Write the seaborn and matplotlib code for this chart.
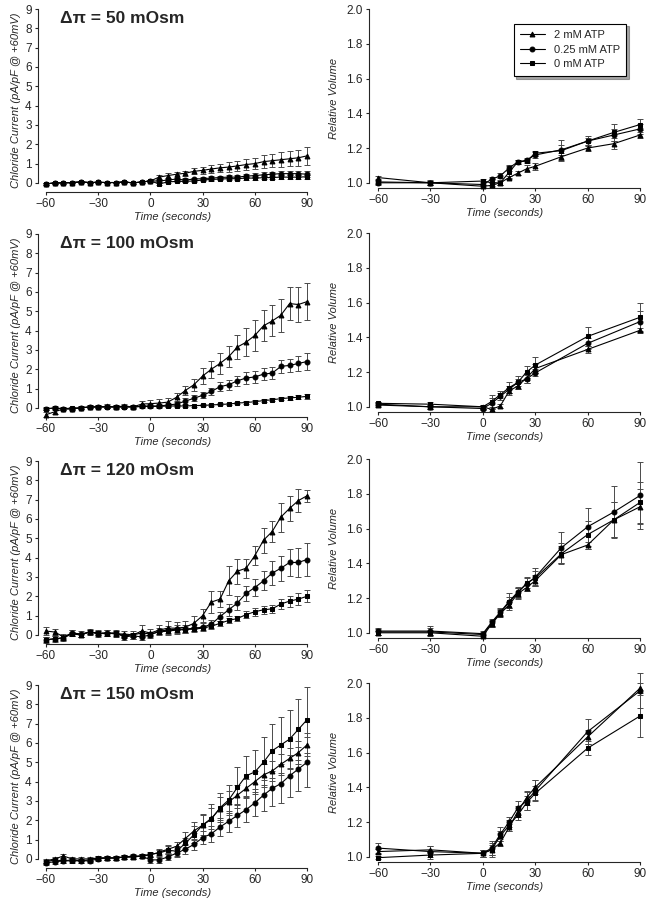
import matplotlib
matplotlib.use('Agg')
import matplotlib.pyplot as plt
import seaborn as sns

# time axes
t_cur = list(range(-60, 91, 5))
t_vol_a = [-60, -30, 0, 5, 10, 15, 20, 25, 30, 45, 60, 75, 90]
t_vol_b = [-60, -30, 0, 5, 10, 15, 20, 25, 30, 60, 90]

atp_labels = ['2 mM ATP', '0.25 mM ATP', '0 mM ATP']
osm_titles = ['Δπ = 50 mOsm', 'Δπ = 100 mOsm', 'Δπ = 120 mOsm', 'Δπ = 150 mOsm']

# chloride current, 50 mOsm
cur50_atp2 = [-0.05, 0.0, 0.0, 0.02, 0.05, 0.02, 0.03, 0.02, 0.02, 0.05, 0.0, 0.05, 0.1,
              0.3, 0.38, 0.45, 0.5, 0.6, 0.65, 0.72, 0.78, 0.82, 0.88, 0.95, 1.0, 1.1, 1.15, 1.2, 1.25, 1.3, 1.4]
cur50_atp2_err = [0.05] * 12 + [0.06, 0.1, 0.12, 0.12, 0.13, 0.15, 0.18, 0.2, 0.22, 0.25, 0.26, 0.28,
                                0.3, 0.32, 0.35, 0.38, 0.38, 0.4, 0.45]
cur50_atp025 = [-0.05, 0.0, 0.0, 0.02, 0.05, 0.02, 0.03, 0.02, 0.02, 0.05, 0.0, 0.05, 0.1,
                0.1, 0.15, 0.2, 0.15, 0.2, 0.22, 0.25, 0.28, 0.3, 0.3, 0.35, 0.38, 0.42, 0.45, 0.48, 0.48, 0.48, 0.45]
cur50_atp025_err = [0.04] * 12 + [0.05, 0.06, 0.07, 0.08, 0.08, 0.08, 0.09, 0.1, 0.1, 0.1, 0.11, 0.12,
                                  0.12, 0.13, 0.14, 0.14, 0.15, 0.15, 0.15]
cur50_atp0 = [-0.05, 0.0, 0.0, 0.02, 0.05, 0.02, 0.03, 0.02, 0.02, 0.05, 0.0, 0.05, 0.1,
              -0.05, 0.05, 0.08, 0.08, 0.1, 0.15, 0.18, 0.2, 0.22, 0.22, 0.25, 0.25, 0.27, 0.28, 0.3, 0.3, 0.3, 0.32]
cur50_atp0_err = [0.04] * 12 + [0.04, 0.04, 0.05, 0.05, 0.05, 0.06, 0.06, 0.06, 0.07, 0.07, 0.07, 0.08,
                                0.08, 0.08, 0.08, 0.09, 0.09, 0.09, 0.1]

# chloride current, 100 mOsm
cur100_atp2 = [-0.35, -0.2, -0.05, -0.05, 0.0, 0.05, 0.05, 0.08, 0.05, 0.1, 0.05, 0.2, 0.22,
               0.25, 0.3, 0.55, 0.9, 1.2, 1.65, 2.0, 2.3, 2.65, 3.15, 3.4, 3.75, 4.25, 4.5, 4.8, 5.4, 5.35, 5.5]
cur100_atp2_err = [0.12, 0.1, 0.08, 0.08, 0.08, 0.08, 0.08, 0.1, 0.1, 0.12, 0.12, 0.15, 0.18,
                   0.2, 0.22, 0.2, 0.25, 0.3, 0.4, 0.45, 0.55, 0.55, 0.6, 0.72, 0.8, 0.8, 0.8, 0.85, 0.85, 0.9, 0.95]
cur100_atp025 = [-0.05, 0.0, -0.05, -0.05, 0.0, 0.05, 0.05, 0.05, 0.05, 0.05, 0.05, 0.08, 0.1,
                 0.1, 0.15, 0.2, 0.35, 0.5, 0.65, 0.85, 1.1, 1.2, 1.4, 1.55, 1.6, 1.75, 1.8, 2.15, 2.2, 2.3, 2.4]
cur100_atp025_err = [0.08] * 12 + [0.08, 0.1, 0.1, 0.12, 0.15, 0.15, 0.15, 0.2, 0.25, 0.25, 0.25, 0.3,
                                   0.3, 0.3, 0.3, 0.35, 0.35, 0.38, 0.42]
cur100_atp0 = [-0.05, 0.0, -0.05, 0.0, 0.0, 0.05, 0.05, 0.05, 0.05, 0.05, 0.05, 0.08, 0.08,
               0.08, 0.1, 0.1, 0.1, 0.12, 0.13, 0.15, 0.18, 0.2, 0.25, 0.28, 0.32, 0.38, 0.42, 0.48, 0.52, 0.55, 0.6]
cur100_atp0_err = [0.05] * 12 + [0.05] * 9 + [0.06, 0.06, 0.06, 0.07, 0.07, 0.08, 0.08, 0.09, 0.1, 0.12]

# chloride current, 120 mOsm
cur120_atp2 = [0.2, 0.15, -0.1, 0.1, 0.0, 0.15, 0.1, 0.1, 0.05, 0.05, 0.0, 0.2, 0.1,
               0.25, 0.35, 0.35, 0.4, 0.6, 1.0, 1.7, 1.85, 2.8, 3.3, 3.45, 4.1, 4.9, 5.35, 6.1, 6.55, 6.95, 7.2]
cur120_atp2_err = [0.2, 0.15, 0.15, 0.15, 0.12, 0.1, 0.15, 0.15, 0.15, 0.15, 0.2, 0.3, 0.2,
                   0.25, 0.35, 0.3, 0.3, 0.4, 0.35, 0.55, 0.4, 0.75, 0.65, 0.5, 0.5, 0.65, 0.55, 0.75, 0.65, 0.6, 0.3]
cur120_atp025 = [-0.25, -0.2, -0.15, 0.1, 0.05, 0.15, 0.05, 0.1, 0.1, -0.1, -0.05, -0.1, 0.0,
                 0.2, 0.25, 0.3, 0.3, 0.35, 0.4, 0.55, 0.95, 1.3, 1.65, 2.15, 2.45, 2.8, 3.2, 3.45, 3.75, 3.75, 3.9]
cur120_atp025_err = [0.15] * 12 + [0.15, 0.15, 0.2, 0.2, 0.2, 0.2, 0.2, 0.2, 0.25, 0.3, 0.35, 0.4,
                                   0.45, 0.5, 0.6, 0.65, 0.7, 0.75, 0.85]
cur120_atp0 = [-0.25, -0.2, -0.15, 0.05, 0.0, 0.15, 0.1, 0.05, 0.1, -0.05, 0.0, 0.1, 0.05,
               0.15, 0.2, 0.25, 0.28, 0.3, 0.35, 0.45, 0.6, 0.75, 0.85, 1.05, 1.2, 1.3, 1.35, 1.6, 1.75, 1.85, 2.0]
cur120_atp0_err = [0.12] * 12 + [0.12] * 9 + [0.15, 0.15, 0.2, 0.2, 0.2, 0.22, 0.25, 0.28, 0.3, 0.3]

# chloride current, 150 mOsm
cur150_atp2 = [-0.1, 0.0, 0.15, 0.0, 0.0, 0.0, 0.05, 0.05, 0.05, 0.1, 0.1, 0.15, 0.2,
               0.35, 0.5, 0.65, 1.05, 1.45, 1.75, 2.1, 2.6, 2.95, 3.3, 3.65, 4.0, 4.35, 4.55, 4.9, 5.2, 5.5, 5.9]
cur150_atp2_err = [0.1] * 12 + [0.12, 0.15, 0.2, 0.25, 0.35, 0.45, 0.5, 0.55, 0.6, 0.55, 0.5, 0.5,
                                0.55, 0.55, 0.5, 0.55, 0.55, 0.6, 0.6]
cur150_atp025 = [-0.2, -0.15, -0.1, -0.05, -0.1, -0.1, 0.0, 0.05, 0.05, 0.1, 0.15, 0.15, -0.05,
                 -0.05, 0.1, 0.3, 0.5, 0.75, 1.1, 1.3, 1.65, 1.95, 2.25, 2.55, 2.9, 3.3, 3.65, 3.9, 4.3, 4.65, 5.0]
cur150_atp025_err = [0.1] * 12 + [0.15, 0.15, 0.15, 0.2, 0.25, 0.3, 0.35, 0.4, 0.45, 0.55, 0.6, 0.65,
                                  0.7, 0.8, 0.9, 1.0, 1.1, 1.15, 1.3]
cur150_atp0 = [-0.15, -0.05, -0.1, -0.1, -0.1, -0.05, 0.05, 0.05, 0.05, 0.1, 0.1, 0.15, 0.25,
               0.3, 0.45, 0.4, 0.8, 1.25, 1.75, 2.05, 2.65, 3.05, 3.7, 4.3, 4.5, 5.0, 5.6, 5.9, 6.2, 6.7, 7.2]
cur150_atp0_err = [0.1] * 12 + [0.12, 0.15, 0.2, 0.25, 0.3, 0.45, 0.6, 0.8, 0.75, 0.8, 1.05, 1.05,
                                1.15, 1.3, 1.4, 1.45, 1.5, 1.6, 1.7]

# relative volume
vol50_atp2 = [1.03, 1.0, 0.98, 0.985, 1.0, 1.03, 1.055, 1.08, 1.095, 1.15, 1.2, 1.225, 1.275]
vol50_atp2_err = [0.01, 0.01, 0.01, 0.015, 0.01, 0.01, 0.01, 0.02, 0.02, 0.02, 0.015, 0.03, 0.015]
vol50_atp025 = [1.0, 1.0, 0.99, 1.02, 1.04, 1.085, 1.12, 1.13, 1.16, 1.19, 1.24, 1.275, 1.31]
vol50_atp025_err = [0.01, 0.01, 0.015, 0.015, 0.015, 0.02, 0.01, 0.01, 0.015, 0.03, 0.02, 0.035, 0.03]
vol50_atp0 = [1.005, 1.0, 1.01, 1.0, 1.0, 1.06, 1.12, 1.125, 1.17, 1.185, 1.24, 1.29, 1.335]
vol50_atp0_err = [0.01, 0.015, 0.01, 0.02, 0.015, 0.035, 0.01, 0.01, 0.015, 0.06, 0.03, 0.05, 0.03]

vol100_atp2 = [1.01, 1.0, 1.0, 0.985, 1.005, 1.09, 1.12, 1.165, 1.22, 1.33, 1.44]
vol100_atp2_err = [0.01, 0.01, 0.01, 0.015, 0.01, 0.02, 0.015, 0.03, 0.025, 0.02, 0.015]
vol100_atp025 = [1.015, 1.0, 0.99, 1.02, 1.06, 1.1, 1.14, 1.16, 1.195, 1.365, 1.49]
vol100_atp025_err = [0.01, 0.01, 0.01, 0.03, 0.02, 0.02, 0.02, 0.025, 0.02, 0.03, 0.06]
vol100_atp0 = [1.02, 1.015, 1.0, 1.03, 1.07, 1.11, 1.14, 1.2, 1.24, 1.405, 1.515]
vol100_atp0_err = [0.01, 0.01, 0.01, 0.04, 0.02, 0.03, 0.035, 0.035, 0.045, 0.055, 0.08]

vol120_atp2 = [1.0, 1.0, 0.98, 1.05, 1.11, 1.16, 1.225, 1.26, 1.3, 1.45, 1.505, 1.65, 1.725]
vol120_atp2_err = [0.01, 0.01, 0.01, 0.015, 0.02, 0.02, 0.03, 0.02, 0.03, 0.05, 0.02, 0.1, 0.1]
vol120_atp025 = [1.01, 1.01, 0.995, 1.06, 1.12, 1.18, 1.235, 1.28, 1.32, 1.49, 1.61, 1.695, 1.79]
vol120_atp025_err = [0.02, 0.03, 0.015, 0.02, 0.02, 0.05, 0.03, 0.04, 0.05, 0.09, 0.11, 0.15, 0.19]
vol120_atp0 = [1.005, 1.005, 0.99, 1.055, 1.115, 1.175, 1.23, 1.285, 1.315, 1.455, 1.565, 1.65, 1.75]
vol120_atp0_err = [0.015, 0.02, 0.015, 0.02, 0.02, 0.03, 0.03, 0.03, 0.04, 0.06, 0.08, 0.1, 0.12]

vol150_atp2 = [1.03, 1.04, 1.02, 1.04, 1.08, 1.17, 1.26, 1.34, 1.40, 1.69, 1.97]
vol150_atp2_err = [0.015, 0.02, 0.02, 0.03, 0.02, 0.02, 0.03, 0.04, 0.04, 0.04, 0.03]
vol150_atp025 = [1.05, 1.03, 1.02, 1.05, 1.13, 1.2, 1.28, 1.32, 1.38, 1.72, 1.955]
vol150_atp025_err = [0.03, 0.03, 0.02, 0.04, 0.04, 0.03, 0.04, 0.05, 0.06, 0.07, 0.1]
vol150_atp0 = [0.995, 1.01, 1.02, 1.04, 1.12, 1.18, 1.24, 1.31, 1.365, 1.625, 1.81]
vol150_atp0_err = [0.01, 0.02, 0.02, 0.04, 0.03, 0.03, 0.03, 0.04, 0.04, 0.04, 0.12]

cur_panels = [
    [(cur50_atp2, cur50_atp2_err), (cur50_atp025, cur50_atp025_err), (cur50_atp0, cur50_atp0_err)],
    [(cur100_atp2, cur100_atp2_err), (cur100_atp025, cur100_atp025_err), (cur100_atp0, cur100_atp0_err)],
    [(cur120_atp2, cur120_atp2_err), (cur120_atp025, cur120_atp025_err), (cur120_atp0, cur120_atp0_err)],
    [(cur150_atp2, cur150_atp2_err), (cur150_atp025, cur150_atp025_err), (cur150_atp0, cur150_atp0_err)],
]
vol_panels = [
    (t_vol_a, [(vol50_atp2, vol50_atp2_err), (vol50_atp025, vol50_atp025_err), (vol50_atp0, vol50_atp0_err)]),
    (t_vol_b, [(vol100_atp2, vol100_atp2_err), (vol100_atp025, vol100_atp025_err), (vol100_atp0, vol100_atp0_err)]),
    (t_vol_a, [(vol120_atp2, vol120_atp2_err), (vol120_atp025, vol120_atp025_err), (vol120_atp0, vol120_atp0_err)]),
    (t_vol_b, [(vol150_atp2, vol150_atp2_err), (vol150_atp025, vol150_atp025_err), (vol150_atp0, vol150_atp0_err)]),
]

markers = ['^', 'o', 's']

sns.set_style('ticks')
plt.rcParams['font.family'] = ['Liberation Sans', 'DejaVu Sans']
plt.rcParams['axes.linewidth'] = 0.8
plt.rcParams['xtick.major.width'] = 0.8
plt.rcParams['ytick.major.width'] = 0.8
plt.rcParams['xtick.major.size'] = 2.5
plt.rcParams['ytick.major.size'] = 2.5
plt.rcParams['xtick.major.pad'] = 1.5
plt.rcParams['ytick.major.pad'] = 2
plt.rcParams['xtick.labelsize'] = 8.5
plt.rcParams['ytick.labelsize'] = 8.5

W, H = 650, 900
fig = plt.figure(figsize=(6.5, 9), dpi=100)

left_tops = [9, 234, 461, 685]
right_tops = [9, 233, 459, 683]


def draw_series(ax, t, series, with_label=False):
    for (vals, err), mk, lab in zip(series, markers, atp_labels):
        eb = ax.errorbar(t, vals, yerr=err, fmt='none', ecolor='#4a4a4a',
                         elinewidth=0.7, capsize=2.5, capthick=0.7, zorder=2)
        for art in list(eb.lines[1]) + list(eb.lines[2]):
            art.set_clip_on(False)
        sns.lineplot(x=t, y=vals, ax=ax, color='black', linewidth=0.8,
                     marker=mk, markersize=3.5, markeredgecolor='black',
                     label=lab if with_label else None, zorder=3, clip_on=False)


for i in range(4):
    # current panel
    ax = fig.add_axes([38 / W, 1 - (left_tops[i] + 183) / H, 269 / W, 183 / H])
    draw_series(ax, t_cur, cur_panels[i])
    ax.set_xlim(-64.6, 90)
    ax.set_ylim(-0.47, 9)
    ax.set_xticks([-60, -30, 0, 30, 60, 90])
    ax.set_yticks(range(0, 10))
    ax.set_xlabel('Time (seconds)', fontsize=8, style='italic', labelpad=1.5)
    ax.set_ylabel('Chloride Current (pA/pF @ +60mV)', fontsize=8, style='italic', labelpad=3)
    ax.text(0.082, 0.95, osm_titles[i], transform=ax.transAxes, fontsize=12.5,
            fontweight='bold', va='center', ha='left')
    sns.despine(ax=ax, trim=True)

    # volume panel
    t_vol, series = vol_panels[i]
    ax2 = fig.add_axes([369 / W, 1 - (right_tops[i] + 179) / H, 271 / W, 179 / H])
    draw_series(ax2, t_vol, series, with_label=(i == 0))
    ax2.set_xlim(-65.2, 90)
    ax2.set_ylim(0.97, 2.0)
    ax2.set_xticks([-60, -30, 0, 30, 60, 90])
    ax2.set_yticks([1.0, 1.2, 1.4, 1.6, 1.8, 2.0])
    ax2.set_yticklabels(['1.0', '1.2', '1.4', '1.6', '1.8', '2.0'])
    ax2.set_xlabel('Time (seconds)', fontsize=8, style='italic', labelpad=1.5)
    ax2.set_ylabel('Relative Volume', fontsize=8, style='italic', labelpad=5)
    sns.despine(ax=ax2, trim=True)
    if i == 0:
        leg = ax2.legend(loc='upper right', bbox_to_anchor=(0.97, 0.95), fontsize=8,
                         frameon=True, fancybox=False, shadow=True, edgecolor='black',
                         handlelength=2.2, borderpad=0.6, labelspacing=0.4)
        leg.get_frame().set_linewidth(0.8)

fig.savefig('out.png', dpi=100)
